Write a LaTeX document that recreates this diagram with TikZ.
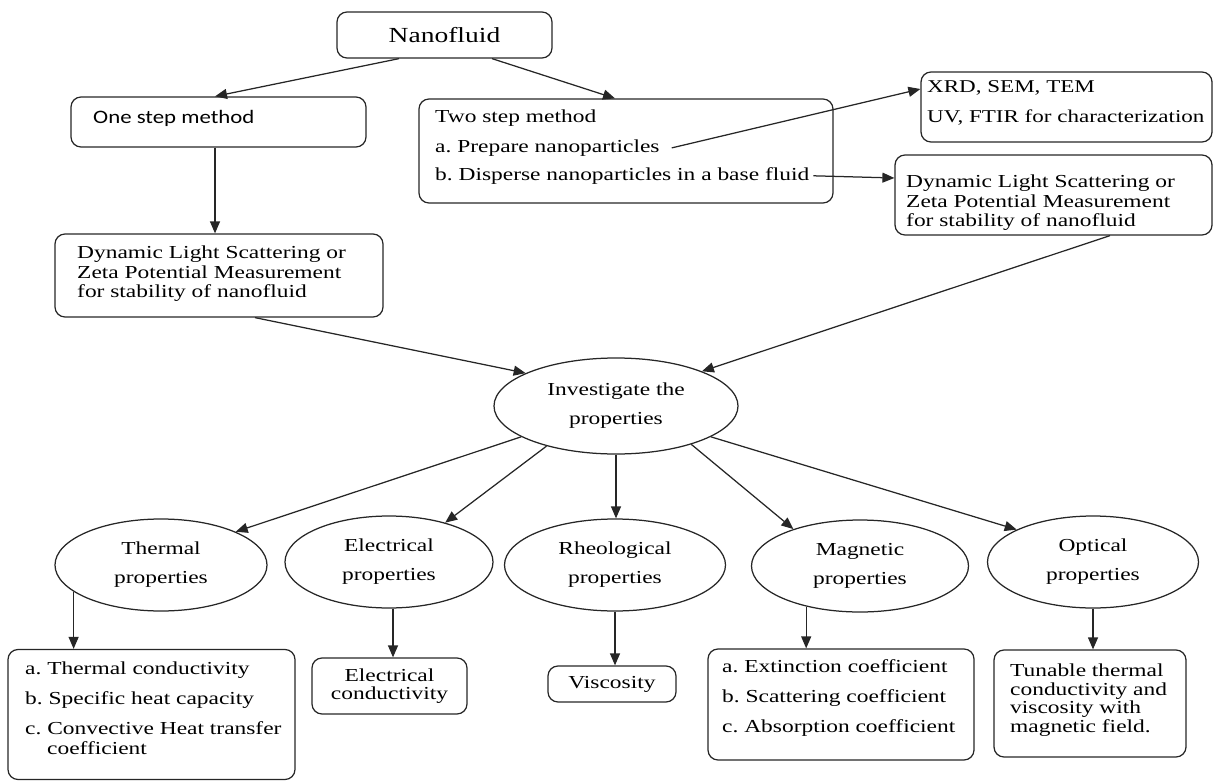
\documentclass[tikz,border=0pt]{standalone}
\usepackage{fontspec}
\setmainfont{Liberation Serif}[FakeStretch=1.28]
\newfontfamily\onestepfont{Carlito}[FakeStretch=1.2]
\usetikzlibrary{arrows.meta,shapes.geometric}
\frenchspacing
\begin{document}
\begin{tikzpicture}[x=1pt,y=-1pt,
  ink/.style={draw=black!85, line width=1.25pt},
  box/.style={ink, rounded corners=10pt, inner sep=0pt},
  ell/.style={ink, ellipse, inner sep=0pt, align=center, font=\fontsize{18.3}{29}\selectfont},
  lbl/.style={inner sep=0pt, anchor=mid west, font=\fontsize{18.3}{19.4}\selectfont},
  mlbl/.style={inner sep=0pt, anchor=west, align=left, font=\fontsize{18.3}{19.4}\selectfont},
  arr/.style={draw=black!85, line width=1.25pt, -{Triangle[length=12pt,width=10pt]}}]
\useasboundingbox (0,0) rectangle (1215,781);

% top
\node[box, minimum width=215pt, minimum height=46pt, font=\fontsize{21.5}{24}\selectfont] (nano) at (444.5,35) {Nanofluid};

\node[box, minimum width=295pt, minimum height=50pt] (one) at (218.5,122) {};
\node[lbl, font=\onestepfont\fontsize{19}{22}\selectfont] (onet) at (93,121) {One step method};

\node[box, minimum width=414pt, minimum height=104pt] (two) at (626,151) {};
\node[lbl] (twot) at (435,120) {Two step method};
\node[lbl] (prep) at (435,150) {a. Prepare nanoparticles};
\node[lbl] (disp) at (435,178) {b. Disperse nanoparticles in a base fluid};

\node[box, minimum width=291pt, minimum height=70pt] (xrd) at (1066.5,107) {};
\node[lbl, font=\fontsize{18}{19.4}\selectfont] (xrd1) at (927,90) {XRD, SEM, TEM};
\node[lbl, font=\fontsize{18}{19.4}\selectfont] (xrd2) at (927,120) {UV, FTIR for characterization};

\node[box, minimum width=317pt, minimum height=80pt] (dynR) at (1053.5,195) {};
\node[mlbl] (dynRt) at (906,203) {Dynamic Light Scattering or\\Zeta Potential Measurement\\for stability of nanofluid};

\node[box, minimum width=328pt, minimum height=83pt] (dynL) at (219,275.5) {};
\node[mlbl] (dynLt) at (77,274) {Dynamic Light Scattering or\\Zeta Potential Measurement\\for stability of nanofluid};

% middle
\node[ell, minimum width=244pt, minimum height=96pt] (inv) at (616,406) {Investigate the\\properties};

\node[ell, minimum width=212pt, minimum height=92pt] (therm) at (161,565) {Thermal\\properties};
\node[ell, minimum width=208pt, minimum height=92pt] (elec) at (389,562) {Electrical\\properties};
\node[ell, minimum width=221pt, minimum height=92pt] (rheo) at (615,565) {Rheological\\properties};
\node[ell, minimum width=217pt, minimum height=92pt] (magn) at (860,566) {Magnetic\\properties};
\node[ell, minimum width=211pt, minimum height=92pt] (opt) at (1093,562) {Optical\\properties};

% bottom
\node[box, minimum width=287pt, minimum height=130pt] (thermb) at (151.5,714.5) {};
\node[lbl] (tb1) at (25,672) {a. Thermal conductivity};
\node[lbl] (tb2) at (25,702) {b. Specific heat capacity};
\node[lbl] (tb3) at (25,732) {c. Convective Heat transfer};
\node[lbl] (tb4) at (47,752) {coefficient};

\node[box, minimum width=155pt, minimum height=56pt, align=center, font=\fontsize{18.3}{18.5}\selectfont] (elecb) at (389.5,686) {Electrical\\conductivity};
\node[box, minimum width=128pt, minimum height=36pt, font=\fontsize{18.3}{19.4}\selectfont] (viscb) at (612,684) {Viscosity};

\node[box, minimum width=266pt, minimum height=111pt] (extb) at (841,704.5) {};
\node[lbl] (eb1) at (722,670) {a. Extinction coefficient};
\node[lbl] (eb2) at (722,700) {b. Scattering coefficient};
\node[lbl] (eb3) at (722,730) {c. Absorption coefficient};

\node[box, minimum width=192pt, minimum height=107pt] (tunb) at (1090,703.5) {};
\node[mlbl, font=\fontsize{18.3}{18.7}\selectfont] (tunt) at (1010,700) {Tunable thermal\\conductivity and\\viscosity with\\magnetic field.};

% connectors
\draw[arr] ([xshift=-45.5pt]nano.south) -- ([xshift=-3.5pt]one.north);
\draw[arr] ([xshift=47.5pt]nano.south) -- ([xshift=-11pt]two.north);
\draw[arr] ([xshift=-3.5pt]one.south) -- ([xshift=-4pt]dynL.north);
\draw[arr] ([xshift=12pt]prep.east) -- ([yshift=18pt]xrd.west);
\draw[arr] ([xshift=4pt]disp.east) -- ([yshift=17pt]dynR.west);
\draw[arr] ([xshift=36pt]dynL.south) -- (inv.160);
\draw[arr] ([xshift=56.5pt]dynR.south) -- (inv.22);

\draw[arr] (inv.198) -- (therm.24);
\draw[arr] (inv.210) -- (elec.35);
\draw[arr] (inv.south) -- (inv.south |- rheo.north);
\draw[arr] (inv.333) -- (magn.151);
\draw[arr] (inv.342) -- (opt.157);

\draw[arr] (therm.197) -- (therm.197 |- thermb.north);
\draw[arr] ([xshift=4pt]elec.south) -- ([xshift=4pt]elec.south |- elecb.north);
\draw[arr] (rheo.south) -- (rheo.south |- viscb.north);
\draw[arr] (magn.217) -- (magn.217 |- extb.north);
\draw[arr] (opt.south) -- (opt.south |- tunb.north);
\end{tikzpicture}
\end{document}
